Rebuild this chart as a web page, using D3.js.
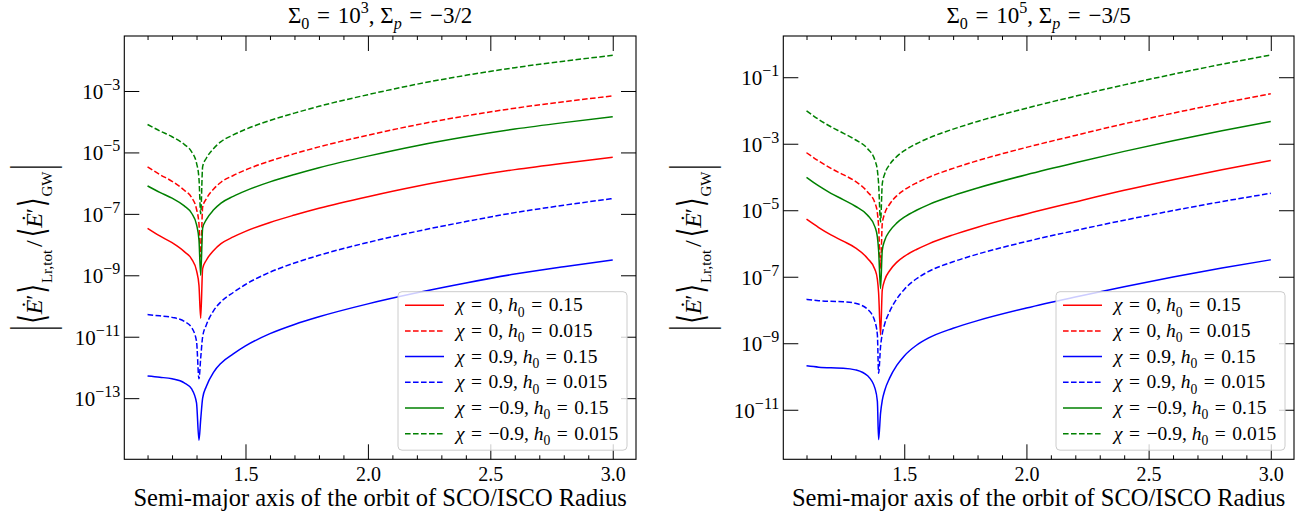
<!DOCTYPE html>
<html>
<head>
<meta charset="utf-8">
<script src="https://cdn.jsdelivr.net/npm/d3@7"></script>
<style>
body { margin: 0; background: #fff; }
text { font-family: "Liberation Serif", "DejaVu Serif", serif; fill: #000; }
</style>
</head>
<body>
<svg id="chart" width="1308" height="518"></svg>
<script>

// ---- data (values are log10 of the energy-flux ratio) ----
var xLeft = [1.10, 1.15, 1.20, 1.25, 1.28, 1.30, 1.31, 1.317, 1.325, 1.34, 1.37, 1.40, 1.45, 1.50, 1.60, 1.70, 1.80, 2.00, 2.20, 2.40, 2.60, 2.80, 3.00];
var leftRedSolid    = [-7.47, -7.72, -7.94, -8.23, -8.47, -8.85, -9.33, -10.40, -8.78, -8.51, -8.19, -7.97, -7.75, -7.57, -7.28, -7.04, -6.82, -6.44, -6.10, -5.81, -5.56, -5.35, -5.16];
var leftRedDashed   = [-5.47, -5.72, -5.94, -6.23, -6.47, -6.85, -7.33, -8.40, -6.78, -6.51, -6.19, -5.97, -5.75, -5.57, -5.28, -5.04, -4.82, -4.44, -4.10, -3.81, -3.56, -3.35, -3.16];
var leftBlueSolid   = [-12.28, -12.32, -12.37, -12.50, -12.70, -13.15, -14.37, -13.70, -13.00, -12.62, -12.15, -11.86, -11.56, -11.30, -10.90, -10.60, -10.35, -9.93, -9.57, -9.25, -8.96, -8.72, -8.50];
var leftBlueDashed  = [-10.28, -10.32, -10.37, -10.50, -10.70, -11.15, -12.37, -11.70, -11.00, -10.62, -10.15, -9.86, -9.56, -9.30, -8.90, -8.60, -8.35, -7.93, -7.57, -7.25, -6.96, -6.72, -6.50];
var leftGreenSolid  = [-6.09, -6.30, -6.49, -6.74, -6.98, -7.35, -7.85, -9.00, -7.46, -7.19, -6.87, -6.65, -6.43, -6.25, -5.96, -5.72, -5.50, -5.12, -4.78, -4.49, -4.24, -4.03, -3.84];
var leftGreenDashed = [-4.09, -4.30, -4.49, -4.74, -4.98, -5.35, -5.85, -7.00, -5.46, -5.19, -4.87, -4.65, -4.43, -4.25, -3.96, -3.72, -3.50, -3.12, -2.78, -2.49, -2.24, -2.03, -1.84];

var xRight = [1.10, 1.15, 1.20, 1.25, 1.30, 1.35, 1.38, 1.39, 1.395, 1.403, 1.41, 1.42, 1.44, 1.47, 1.50, 1.55, 1.60, 1.70, 1.80, 2.00, 2.20, 2.40, 2.60, 2.80, 3.00];
var rightRedSolid    = [-5.27, -5.52, -5.74, -5.93, -6.13, -6.45, -6.78, -7.08, -7.48, -8.75, -7.40, -7.10, -6.82, -6.56, -6.39, -6.18, -6.01, -5.74, -5.51, -5.11, -4.75, -4.40, -4.08, -3.78, -3.50];
var rightRedDashed   = [-3.27, -3.52, -3.74, -3.93, -4.13, -4.45, -4.78, -5.08, -5.48, -6.75, -5.40, -5.10, -4.82, -4.56, -4.39, -4.18, -4.01, -3.74, -3.51, -3.11, -2.75, -2.40, -2.08, -1.78, -1.50];
var rightBlueSolid   = [-9.68, -9.72, -9.74, -9.75, -9.80, -9.98, -10.35, -10.75, -11.90, -11.10, -10.72, -10.42, -10.05, -9.66, -9.38, -9.06, -8.84, -8.55, -8.32, -7.94, -7.61, -7.30, -7.01, -6.74, -6.49];
var rightBlueDashed  = [-7.68, -7.72, -7.74, -7.75, -7.80, -7.98, -8.35, -8.75, -9.90, -9.10, -8.72, -8.42, -8.05, -7.66, -7.38, -7.06, -6.84, -6.55, -6.32, -5.94, -5.61, -5.30, -5.01, -4.74, -4.49];
var rightGreenSolid  = [-4.01, -4.27, -4.49, -4.68, -4.88, -5.15, -5.50, -5.80, -6.20, -7.35, -6.21, -5.91, -5.63, -5.38, -5.21, -5.00, -4.83, -4.56, -4.33, -3.93, -3.57, -3.23, -2.91, -2.61, -2.33];
var rightGreenDashed = [-2.01, -2.27, -2.49, -2.68, -2.88, -3.15, -3.50, -3.80, -4.20, -5.35, -4.21, -3.91, -3.63, -3.38, -3.21, -3.00, -2.83, -2.56, -2.33, -1.93, -1.57, -1.23, -0.91, -0.61, -0.33];

var chiLabels = ["0", "0", "0.9", "0.9", "\u22120.9", "\u22120.9"];
var h0Labels = ["0.15", "0.015", "0.15", "0.015", "0.15", "0.015"];
var seriesColors = ["red", "red", "blue", "blue", "green", "green"];
var seriesDashed = [false, true, false, true, false, true];

var xMajorTicks = [1.5, 2.0, 2.5, 3.0];
var xMinorTicks = [1.1, 1.2, 1.3, 1.4, 1.6, 1.7, 1.8, 1.9, 2.1, 2.2, 2.3, 2.4, 2.6, 2.7, 2.8, 2.9];
var leftYTicks = [-13, -11, -9, -7, -5, -3];     // exponents of 10
var rightYTicks = [-11, -9, -7, -5, -3, -1];
var sigma0Labels = ["3", "5"];
var sigmaPLabels = ["\u22123/2", "\u22123/5"];

// ---- layout ----
var panels = [
	{ x0: 124.3, x1: 636, y0: 36, y1: 459.3, ymin: -14.99, ymax: -1.21, xs: xLeft, yt: leftYTicks,
	  series: [leftRedSolid, leftRedDashed, leftBlueSolid, leftBlueDashed, leftGreenSolid, leftGreenDashed] },
	{ x0: 783.3, x1: 1294, y0: 36, y1: 459.3, ymin: -12.49, ymax: 0.24, xs: xRight, yt: rightYTicks,
	  series: [rightRedSolid, rightRedDashed, rightBlueSolid, rightBlueDashed, rightGreenSolid, rightGreenDashed] }
];

var svg = d3.select("#chart");
svg.append("rect").attr("width", 1308).attr("height", 518).attr("fill", "#fff");

var sp = "\u2004"; // wider math-like space around "="

// appends tspans; parts: {t, i (italic), sub, sup, size, shift}
function mathText(sel, parts, size) {
	var cur = 0;
	parts.forEach(function(p) {
		var fs = p.size || ((p.sub || p.sup) ? size * 0.7 : size);
		var target = p.shift !== undefined ? p.shift : (p.sub ? size * 0.28 : (p.sup ? -size * 0.42 : 0));
		var t = sel.append("tspan").text(p.t).attr("font-size", fs);
		if (target !== cur) { t.attr("dy", target - cur); cur = target; }
		if (p.i) t.attr("font-style", "italic");
	});
}

// rotated y label built piece by piece so delimiters can be stretched
function yLabel(cx, cy) {
	var g = svg.append("g").attr("transform", "translate(" + cx + "," + cy + ") rotate(-90)");
	var inner = g.append("g");
	var pieces = [
		{ t: "|", sy: 2.4, pad: 2 },
		{ t: "\u27E8", sy: 1.5, pad: 0 },
		{ t: "\u0116", i: true },
		{ t: "\u2032", pad: 1 },
		{ t: "\u27E9", sy: 1.5, pad: 1 },
		{ t: "Lr,tot", fs: 15, dy: 10, pad: 3 },
		{ t: "/", pad: 3 },
		{ t: "\u27E8", sy: 1.5, pad: 0 },
		{ t: "\u0116", i: true },
		{ t: "\u2032", pad: 1 },
		{ t: "\u27E9", sy: 1.5, pad: 1 },
		{ t: "GW", fs: 15, dy: 10, pad: 2 },
		{ t: "|", sy: 2.4 }
	];
	var pos = 0, base = 24, mid = -8;
	pieces.forEach(function(p) {
		var fs = p.fs || base;
		var holder = inner.append("g");
		var t = holder.append("text").attr("font-size", fs).text(p.t);
		if (p.i) t.attr("font-style", "italic");
		if (p.sy) {
			// stretch around glyph centre, then place the centre on the text mid-line
			holder.attr("transform", "translate(" + pos + "," + mid + ") scale(1," + p.sy + ") translate(0," + (0.27 * fs) + ")");
		} else {
			holder.attr("transform", "translate(" + pos + "," + (p.dy || 0) + ")");
		}
		pos += t.node().getComputedTextLength() + (p.pad || 0);
	});
	inner.attr("transform", "translate(" + (-pos / 2) + ",0)");
}

panels.forEach(function(p, pi) {
	var x = d3.scaleLinear().domain([1.005, 3.095]).range([p.x0, p.x1]);
	var y = d3.scaleLog().domain([Math.pow(10, p.ymin), Math.pow(10, p.ymax)]).range([p.y1, p.y0]);

	svg.append("clipPath").attr("id", "clip" + pi)
		.append("rect").attr("x", p.x0).attr("y", p.y0).attr("width", p.x1 - p.x0).attr("height", p.y1 - p.y0);

	var line = d3.line()
		.x(function(d) { return x(d[0]); })
		.y(function(d) { return y(Math.pow(10, d[1])); })
		.curve(d3.curveMonotoneX);

	var curves = svg.append("g").attr("clip-path", "url(#clip" + pi + ")");
	p.series.forEach(function(vals, si) {
		curves.append("path")
			.datum(p.xs.map(function(xv, k) { return [xv, vals[k]]; }))
			.attr("d", line)
			.attr("fill", "none")
			.attr("stroke", seriesColors[si])
			.attr("stroke-width", 1.5)
			.attr("stroke-dasharray", seriesDashed[si] ? "5.6,2.4" : null);
	});

	// axes: ticks point inward on all four sides
	function styleAxis(g) {
		g.select(".domain").remove();
		g.attr("font-family", null).attr("font-size", 20);
		g.selectAll("line").attr("stroke-width", 1);
	}
	svg.append("g").attr("transform", "translate(0," + p.y1 + ")")
		.call(d3.axisBottom(x).tickValues(xMajorTicks).tickSize(-15).tickPadding(8).tickFormat(d3.format(".1f")))
		.call(styleAxis);
	svg.append("g").attr("transform", "translate(0," + p.y1 + ")")
		.call(d3.axisBottom(x).tickValues(xMinorTicks).tickSize(-4).tickFormat(""))
		.call(styleAxis);
	svg.append("g").attr("transform", "translate(0," + p.y0 + ")")
		.call(d3.axisTop(x).tickValues(xMajorTicks).tickSize(-15).tickFormat(""))
		.call(styleAxis);
	svg.append("g").attr("transform", "translate(0," + p.y0 + ")")
		.call(d3.axisTop(x).tickValues(xMinorTicks).tickSize(-4).tickFormat(""))
		.call(styleAxis);
	var yTickVals = p.yt.map(function(e) { return Math.pow(10, e); });
	svg.append("g").attr("transform", "translate(" + p.x0 + ",0)")
		.call(d3.axisLeft(y).tickValues(yTickVals).tickSize(-15).tickFormat(""))
		.call(styleAxis);
	svg.append("g").attr("transform", "translate(" + p.x1 + ",0)")
		.call(d3.axisRight(y).tickValues(yTickVals).tickSize(-15).tickFormat(""))
		.call(styleAxis);

	// y tick labels as 10^e
	p.yt.forEach(function(e) {
		var t = svg.append("text")
			.attr("x", p.x0 - 4)
			.attr("y", y(Math.pow(10, e)) + 8)
			.attr("text-anchor", "end");
		mathText(t, [{ t: "10" }, { t: "\u2212" + Math.abs(e), shift: -9, size: 16 }], 21);
	});

	svg.append("rect")
		.attr("x", p.x0).attr("y", p.y0)
		.attr("width", p.x1 - p.x0).attr("height", p.y1 - p.y0)
		.attr("fill", "none").attr("stroke", "#000").attr("stroke-width", 1.1);

	var cx = (p.x0 + p.x1) / 2;

	// title
	var title = svg.append("text").attr("x", cx).attr("y", 23).attr("text-anchor", "middle");
	mathText(title, [
		{ t: "\u03A3" }, { t: "0", sub: true }, { t: sp + "=" + sp + "10" }, { t: sigma0Labels[pi], sup: true },
		{ t: ", \u03A3" }, { t: "p", sub: true, i: true }, { t: sp + "=" + sp + sigmaPLabels[pi] }
	], 23);

	// x label
	svg.append("text").attr("x", cx).attr("y", 506).attr("text-anchor", "middle")
		.attr("font-size", 24.5)
		.text("Semi-major axis of the orbit of SCO/ISCO Radius");

	// y label
	yLabel(p.x0 - 82, (p.y0 + p.y1) / 2);

	// legend
	var lx = p.x1 - 238, ly = 291.7;
	var leg = svg.append("g");
	leg.append("rect")
		.attr("x", lx).attr("y", ly).attr("width", 229).attr("height", 158.5).attr("rx", 4)
		.attr("fill", "#fff").attr("fill-opacity", 0.8)
		.attr("stroke", "#cccccc").attr("stroke-width", 1);
	seriesColors.forEach(function(c, si) {
		var ry = ly + 13.5 + si * 25.7;
		leg.append("line")
			.attr("x1", lx + 7).attr("x2", lx + 46).attr("y1", ry).attr("y2", ry)
			.attr("stroke", c).attr("stroke-width", 1.5)
			.attr("stroke-dasharray", seriesDashed[si] ? "5.6,2.4" : null);
		var t = leg.append("text").attr("x", lx + 58).attr("y", ry + 6);
		mathText(t, [
			{ t: "\u03C7", i: true }, { t: sp + "=" + sp + chiLabels[si] + ", " },
			{ t: "h", i: true }, { t: "0", sub: true }, { t: sp + "=" + sp + h0Labels[si] }
		], 19.5);
	});
});

</script>
</body>
</html>
